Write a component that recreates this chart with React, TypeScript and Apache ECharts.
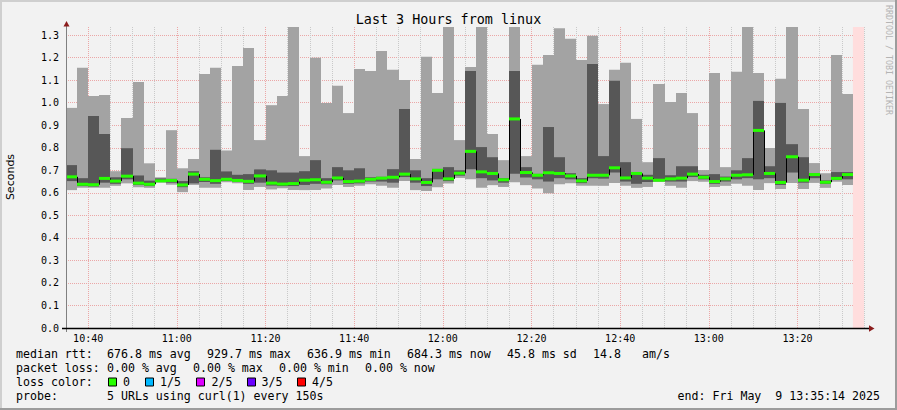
import { useEffect, useRef } from "react";
import * as echarts from "echarts";

// ---- data (seconds), one entry per 150 s step ----
const smokeMin = [
  0.612, 0.622, 0.622, 0.622, 0.631, 0.642, 0.625, 0.622, 0.645, 0.636,
  0.603, 0.635, 0.622, 0.622, 0.647, 0.643, 0.612, 0.626, 0.615, 0.620,
  0.612, 0.612, 0.613, 0.619, 0.635, 0.626, 0.631, 0.638, 0.631, 0.622,
  0.652, 0.612, 0.608, 0.625, 0.641, 0.666, 0.660, 0.622, 0.634, 0.626,
  0.647, 0.634, 0.619, 0.598, 0.638, 0.643, 0.631, 0.631, 0.631, 0.644,
  0.631, 0.622, 0.626, 0.648, 0.631, 0.622, 0.652, 0.649, 0.626, 0.631,
  0.640, 0.631, 0.613, 0.643, 0.617, 0.644, 0.617, 0.644, 0.622, 0.649,
  0.635,
];
const smokeP2 = [
  0.652, 0.630, 0.628, 0.645, 0.640, 0.660, 0.635, 0.630, 0.649, 0.645,
  0.625, 0.642, 0.648, 0.640, 0.653, 0.650, 0.640, 0.645, 0.632, 0.630,
  0.630, 0.635, 0.640, 0.638, 0.655, 0.640, 0.642, 0.650, 0.650, 0.645,
  0.670, 0.645, 0.630, 0.660, 0.652, 0.676, 0.705, 0.665, 0.655, 0.645,
  0.685, 0.668, 0.660, 0.650, 0.665, 0.660, 0.643, 0.665, 0.663, 0.690,
  0.650, 0.640, 0.648, 0.652, 0.650, 0.650, 0.670, 0.660, 0.640, 0.650,
  0.660, 0.665, 0.660, 0.665, 0.635, 0.690, 0.645, 0.665, 0.640, 0.657,
  0.660,
];
const medianRtt = [
  0.671, 0.638, 0.636, 0.664, 0.652, 0.674, 0.643, 0.638, 0.653, 0.655,
  0.635, 0.683, 0.660, 0.654, 0.660, 0.655, 0.651, 0.675, 0.643, 0.639,
  0.641, 0.656, 0.658, 0.647, 0.666, 0.650, 0.652, 0.660, 0.665, 0.669,
  0.683, 0.662, 0.646, 0.700, 0.662, 0.687, 0.784, 0.693, 0.686, 0.658,
  0.928, 0.690, 0.678, 0.689, 0.686, 0.675, 0.653, 0.678, 0.678, 0.711,
  0.666, 0.686, 0.665, 0.656, 0.662, 0.665, 0.683, 0.669, 0.650, 0.662,
  0.678, 0.680, 0.877, 0.686, 0.646, 0.760, 0.656, 0.681, 0.647, 0.664,
  0.681,
];
const smokeP4 = [
  0.723, 0.665, 0.941, 0.861, 0.669, 0.798, 0.677, 0.654, 0.664, 0.662,
  0.652, 0.696, 0.669, 0.791, 0.695, 0.680, 0.683, 0.704, 0.700, 0.690,
  0.690, 0.696, 0.745, 0.665, 0.714, 0.700, 0.709, 0.669, 0.671, 0.705,
  0.972, 0.700, 0.665, 0.706, 0.714, 0.700, 1.141, 0.803, 0.758, 0.665,
  1.141, 0.714, 0.684, 0.892, 0.758, 0.687, 0.665, 1.172, 0.763, 1.097,
  0.736, 0.692, 0.680, 0.754, 0.678, 0.718, 0.718, 0.680, 0.683, 0.672,
  0.700, 0.754, 1.008, 0.718, 0.999, 0.816, 0.758, 0.687, 0.655, 0.692,
  0.692,
];
const smokeMax = [
  0.977, 1.155, 1.030, 1.034, 0.696, 0.932, 1.092, 0.731, 0.669, 0.878,
  0.709, 0.750, 1.127, 1.155, 0.788, 1.163, 1.243, 0.834, 0.989, 1.030,
  1.400, 0.763, 1.199, 0.999, 1.075, 0.954, 1.150, 1.141, 1.230, 1.146,
  1.101, 0.750, 1.204, 1.043, 1.400, 0.834, 1.159, 1.400, 0.861, 0.745,
  1.400, 0.763, 1.168, 1.212, 1.330, 1.284, 1.190, 1.297, 0.994, 1.146,
  1.177, 0.928, 0.736, 1.083, 1.003, 1.043, 0.954, 0.701, 1.132, 0.714,
  1.137, 1.400, 1.132, 0.799, 1.106, 1.400, 0.972, 0.732, 0.687, 1.212,
  1.039,
];

const timeLabels = ["10:40", "11:00", "11:20", "11:40", "12:00", "12:20", "12:40", "13:00", "13:20"];
const lossColors = ["#26ff00", "#00b8ff", "#dd00ff", "#6a00ff", "#ff0000"];
const lossLabels = ["0", "1/5", "2/5", "3/5", "4/5"];

const toSec = (hms: string) => {
  const [h, m, s] = hms.split(":").map(Number);
  return h * 3600 + m * 60 + (s || 0);
};
const VIEW_START = toSec("10:35:14");
const AXIS_START = toSec("10:35:00");
const AXIS_END = toSec("13:35:00");
const FIRST_STEP_END = toSec("10:37:30");
const STEP = 150;
const UNKNOWN_START = toSec("13:32:30");
const Y_MAX = 1.336;

const MONO = '"DejaVu Sans Mono", monospace';
const GRID_GRAY = "#c9c9c9";
const GRID_RED = "#eba7a7";

export default function App() {
  const ref = useRef<HTMLDivElement>(null);

  useEffect(() => {
    document.body.style.margin = "0";
    const chart = echarts.init(ref.current!, undefined, { renderer: "svg" });

    const stepData = smokeMin.map((_, i) => [
      i === 0 ? VIEW_START : FIRST_STEP_END + (i - 1) * STEP,
      FIRST_STEP_END + i * STEP,
      smokeMin[i],
      smokeP2[i],
      medianRtt[i],
      smokeP4[i],
      smokeMax[i],
    ]);

    const clampY = (v: number) => Math.min(v, Y_MAX);

    const renderSmoke = (params: any, api: any) => {
      const i = params.dataIndex;
      const s = api.value(0);
      const e = api.value(1);
      const x0 = Math.round(api.coord([s, 0])[0]);
      const x1 = Math.round(api.coord([e, 0])[0]);
      const w = x1 - x0;
      const yMin = api.coord([s, api.value(2)])[1];
      const yP2 = api.coord([s, api.value(3)])[1];
      const yMed = api.coord([s, api.value(4)])[1];
      const yP4 = api.coord([s, clampY(api.value(5))])[1];
      const yMax = api.coord([s, clampY(api.value(6))])[1];
      const children: any[] = [
        { type: "rect", shape: { x: x0, y: yMax, width: w, height: yMin - yMax }, style: { fill: "#a3a3a3" } },
        { type: "rect", shape: { x: x0, y: yP4, width: w, height: yP2 - yP4 }, style: { fill: "#575757" } },
      ];
      if (i > 0) {
        const yPrev = api.coord([s, medianRtt[i - 1]])[1];
        children.push({
          type: "line",
          shape: { x1: x0 + 0.5, y1: yPrev, x2: x0 + 0.5, y2: yMed },
          style: { stroke: "#000", lineWidth: 1 },
        });
      }
      children.push({
        type: "rect",
        shape: { x: x0, y: yMed - 1.5, width: w, height: 3 },
        style: { fill: lossColors[0] },
      });
      return { type: "group", children };
    };

    const renderUnknown = (params: any, api: any) => {
      const p0 = api.coord([api.value(0), Y_MAX]);
      const p1 = api.coord([api.value(1), 0]);
      return {
        type: "rect",
        shape: { x: p0[0], y: p0[1], width: p1[0] - p0[0], height: p1[1] - p0[1] },
        style: { fill: "#ffdddd" },
      };
    };

    const textEl = (text: string, x: number, y: number, extra: any = {}) => ({
      type: "text",
      x,
      y,
      z: 100,
      style: {
        text,
        fill: "#000",
        font: `11.6px ${MONO}`,
        textAlign: "left",
        textVerticalAlign: "middle",
        ...extra,
      },
    });

    const legendY = [354, 368, 382, 396];
    const graphic: any[] = [
      // frame
      { type: "line", z: 100, shape: { x1: 0, y1: 1, x2: 897, y2: 1 }, style: { stroke: "#cfcfcf", lineWidth: 2 } },
      { type: "line", z: 100, shape: { x1: 1, y1: 0, x2: 1, y2: 410 }, style: { stroke: "#cfcfcf", lineWidth: 2 } },
      { type: "line", z: 100, shape: { x1: 0, y1: 409, x2: 897, y2: 409 }, style: { stroke: "#9c9c9c", lineWidth: 2 } },
      { type: "line", z: 100, shape: { x1: 896, y1: 0, x2: 896, y2: 410 }, style: { stroke: "#9c9c9c", lineWidth: 2 } },
      // axes
      { type: "line", z: 100, shape: { x1: 66.5, y1: 332, x2: 66.5, y2: 25 }, style: { stroke: "#808080", lineWidth: 1 } },
      { type: "polygon", z: 101, shape: { points: [[63.5, 26.5], [69.5, 26.5], [66.5, 21]] }, style: { fill: "#8b1c1c" } },
      { type: "line", z: 100, shape: { x1: 62, y1: 328.5, x2: 870, y2: 328.5 }, style: { stroke: "#000", lineWidth: 1.6 } },
      { type: "polygon", z: 101, shape: { points: [[869, 325.3], [869, 331.7], [874.5, 328.5]] }, style: { fill: "#8b1c1c" } },
      // title
      textEl("Last 3 Hours from linux", 448.5, 19, { textAlign: "center", font: `13.4px ${MONO}` }),
      // y axis name
      {
        type: "text",
        x: 10.5,
        y: 177,
        rotation: Math.PI / 2,
        z: 100,
        style: { text: "Seconds", fill: "#000", font: '11px "DejaVu Sans", sans-serif', textAlign: "center", textVerticalAlign: "middle" },
      },
      // watermark
      {
        type: "text",
        x: 889,
        y: 60,
        rotation: -Math.PI / 2,
        z: 100,
        style: { text: "RRDTOOL / TOBI OETIKER", fill: "#b4b4b4", font: `8.3px ${MONO}`, textAlign: "center", textVerticalAlign: "middle" },
      },
      // legend line 1
      textEl("median rtt:", 16, legendY[0]),
      textEl("676.8 ms avg", 107, legendY[0]),
      textEl("929.7 ms max", 207, legendY[0]),
      textEl("636.9 ms min", 307, legendY[0]),
      textEl("684.3 ms now", 407, legendY[0]),
      textEl("45.8 ms sd", 507, legendY[0]),
      textEl("14.8", 593, legendY[0]),
      textEl("am/s", 642, legendY[0]),
      // legend line 2
      textEl("packet loss:", 16, legendY[1]),
      textEl("0.00 % avg", 107, legendY[1]),
      textEl("0.00 % max", 193, legendY[1]),
      textEl("0.00 % min", 279, legendY[1]),
      textEl("0.00 % now", 365, legendY[1]),
      // legend line 3
      textEl("loss color:", 16, legendY[2]),
      // legend line 4
      textEl("probe:", 16, legendY[3]),
      textEl("5 URLs using curl(1) every 150s", 107, legendY[3]),
      textEl("end: Fri May  9 13:35:14 2025", 880, legendY[3], { textAlign: "right" }),
    ];
    const boxX = [108.5, 145.5, 196.5, 247.5, 297.5];
    const labelX = [123, 160, 211.5, 261.5, 312];
    lossLabels.forEach((lab, k) => {
      graphic.push({
        type: "rect",
        z: 100,
        shape: { x: boxX[k], y: legendY[2] - 4, width: 8, height: 8 },
        style: { fill: lossColors[k], stroke: "#000", lineWidth: 1 },
      });
      graphic.push(textEl(lab, labelX[k], legendY[2]));
    });

    chart.setOption({
      animation: false,
      backgroundColor: "#f2f2f2",
      grid: { left: 66, top: 27, width: 798, height: 301 },
      xAxis: {
        type: "value",
        min: AXIS_START,
        max: AXIS_END,
        interval: 300,
        axisLine: { show: false },
        axisTick: { show: false },
        axisLabel: {
          interval: 0,
          margin: 5,
          color: "#000",
          fontFamily: MONO,
          fontSize: 10,
          formatter: (v: number) => {
            const h = Math.floor(v / 3600);
            const m = Math.floor((v % 3600) / 60);
            const s = `${h}:${String(m).padStart(2, "0")}`;
            return v % 60 === 0 && timeLabels.includes(s) ? s : "";
          },
        },
        splitLine: {
          show: true,
          interval: 0,
          lineStyle: { color: [GRID_GRAY, GRID_RED, GRID_GRAY, GRID_GRAY], type: [1, 1], width: 1 },
        },
      },
      yAxis: {
        type: "value",
        min: 0,
        max: Y_MAX,
        interval: 0.1,
        axisLine: { show: false },
        axisTick: { show: false },
        axisLabel: {
          margin: 7,
          color: "#000",
          fontFamily: MONO,
          fontSize: 10,
          showMaxLabel: false,
          formatter: (v: number) => (Math.abs(v * 10 - Math.round(v * 10)) < 1e-6 ? v.toFixed(1) : ""),
        },
        splitLine: {
          show: true,
          showMaxLine: false,
          lineStyle: { color: GRID_RED, type: [1, 1], width: 1 },
        },
      },
      series: [
        {
          type: "custom",
          renderItem: renderUnknown,
          data: [[UNKNOWN_START, AXIS_END]],
          encode: { x: [0, 1] },
          silent: true,
        },
        {
          type: "custom",
          renderItem: renderSmoke,
          data: stepData,
          encode: { x: [0, 1], y: [2, 3, 4, 5, 6] },
          silent: true,
        },
      ],
      graphic,
    });

    return () => chart.dispose();
  }, []);

  return <div ref={ref} style={{ width: 897, height: 410 }} />;
}
